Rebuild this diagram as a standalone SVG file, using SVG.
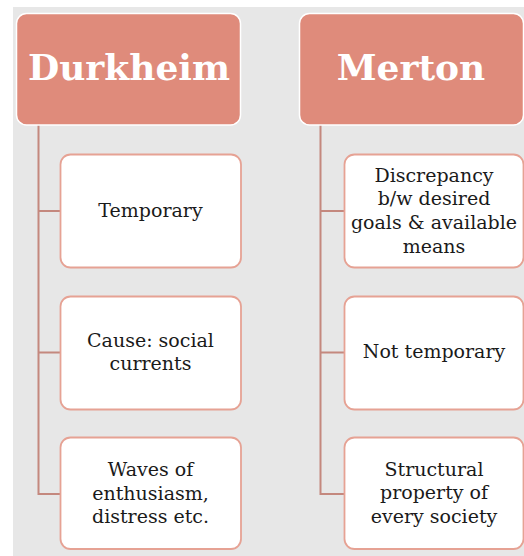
<svg xmlns="http://www.w3.org/2000/svg" width="524" height="556" viewBox="0 0 524 556">
<style>
.hdr{fill:#df8b7b;stroke:#ffffff;stroke-width:1.5}
.box{fill:#ffffff;stroke:#e6a294;stroke-width:1.8}
.ht{font-family:"DejaVu Serif","Liberation Serif",serif;font-weight:bold;font-size:36px;fill:#ffffff;text-anchor:middle}
.bt{font-family:"DejaVu Serif","Liberation Serif",serif;font-size:19px;fill:#1a1a1a;text-anchor:middle}
.con{fill:none;stroke:#c4887e;stroke-width:2}
</style>
<rect x="0" y="0" width="524" height="556" fill="#ffffff"/>
<rect x="13" y="7" width="511" height="549" fill="#e7e7e7"/>
<g id="connectors">
<path class="con" d="M38.5 125 V494 H60 M38.5 211 H60 M38.5 352.5 H60"/>
<path class="con" d="M320.5 125 V494 H344 M320.5 211 H344 M320.5 352.5 H344"/>
</g>
<g id="durkheim">
<rect class="hdr" x="16.5" y="13.5" width="224" height="111.5" rx="10"/>
<text class="ht" x="129" y="80">Durkheim</text>
</g>
<g id="merton">
<rect class="hdr" x="299.5" y="13.5" width="224" height="111.5" rx="10"/>
<text class="ht" x="411" y="80">Merton</text>
</g>
<g id="d1">
<rect class="box" x="60.5" y="154.5" width="180.5" height="113" rx="10"/>
<text class="bt" x="150.5" y="217">Temporary</text>
</g>
<g id="d2">
<rect class="box" x="60.5" y="296.5" width="180.5" height="113" rx="10"/>
<text class="bt" x="150.5" y="346.5">Cause: social</text>
<text class="bt" x="150.5" y="370">currents</text>
</g>
<g id="d3">
<rect class="box" x="60.5" y="437.5" width="180.5" height="111.5" rx="10"/>
<text class="bt" x="150.5" y="475.5">Waves of</text>
<text class="bt" x="150.5" y="499.5">enthusiasm,</text>
<text class="bt" x="150.5" y="523">distress etc.</text>
</g>
<g id="m1">
<rect class="box" x="344.5" y="154.5" width="179" height="113" rx="10"/>
<text class="bt" x="434" y="181.5">Discrepancy</text>
<text class="bt" x="434" y="205">b/w desired</text>
<text class="bt" x="434" y="228.5">goals &amp; available</text>
<text class="bt" x="434" y="252.5">means</text>
</g>
<g id="m2">
<rect class="box" x="344.5" y="296.5" width="179" height="113" rx="10"/>
<text class="bt" x="434" y="357.5">Not temporary</text>
</g>
<g id="m3">
<rect class="box" x="344.5" y="437.5" width="179" height="111.5" rx="10"/>
<text class="bt" x="434" y="475.5">Structural</text>
<text class="bt" x="434" y="499">property of</text>
<text class="bt" x="434" y="522.5">every society</text>
</g>
</svg>
